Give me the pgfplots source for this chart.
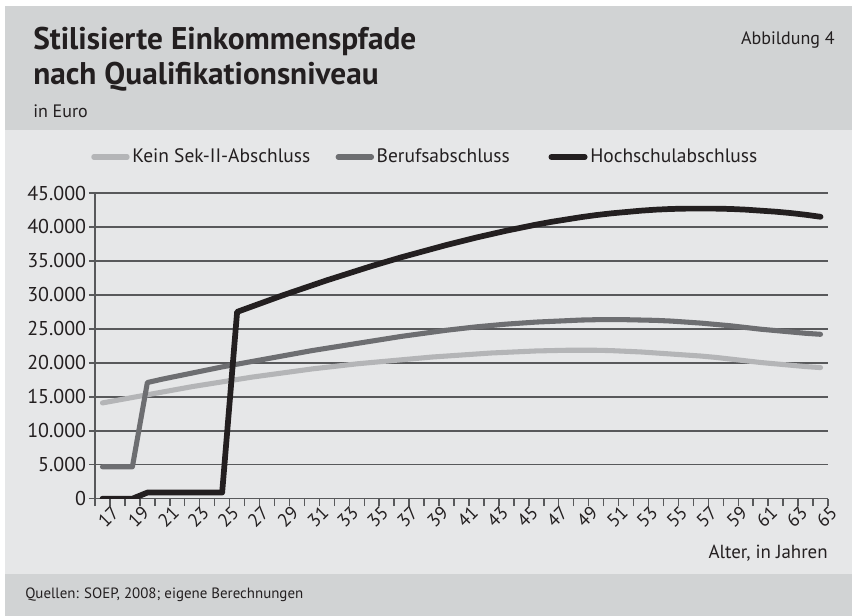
\documentclass[border=0pt]{standalone}
\usepackage{fontspec}
\setmainfont{PT Sans}
\usepackage{pgfplots}
\usepackage{pgfplotstable}
\pgfplotsset{compat=1.18}
\definecolor{hdr}{HTML}{D1D3D4}
\definecolor{pnl}{HTML}{E6E7E8}
\definecolor{gridc}{HTML}{58595B}
\definecolor{cKein}{HTML}{B4B5B7}
\definecolor{cBeruf}{HTML}{6D6E71}
\definecolor{cHoch}{HTML}{231F20}
\def\U{0.75pt}

\pgfplotstableread{
age kein beruf hoch
17 14100 4700 0
18 14500 4700 0
19 14900 4700 0
20 15300 17100 900
21 15700 17600 900
22 16100 18050 900
23 16500 18500 900
24 16850 18950 900
25 17200 19400 900
26 17550 19800 27500
27 17900 20200 28300
28 18200 20600 29100
29 18500 21000 29900
30 18800 21400 30650
31 19100 21800 31400
32 19350 22150 32150
33 19600 22500 32850
34 19850 22850 33550
35 20050 23200 34250
36 20250 23550 34900
37 20450 23900 35550
38 20650 24200 36150
39 20850 24500 36750
40 21000 24800 37350
41 21150 25050 37900
42 21300 25300 38450
43 21450 25500 38950
44 21550 25700 39450
45 21650 25850 39900
46 21750 26000 40350
47 21800 26100 40750
48 21850 26200 41100
49 21850 26300 41450
50 21850 26350 41750
51 21800 26350 42000
52 21700 26350 42200
53 21600 26300 42400
54 21450 26250 42550
55 21300 26150 42650
56 21150 26000 42700
57 21000 25850 42700
58 20800 25650 42700
59 20550 25450 42650
60 20300 25200 42550
61 20050 24950 42400
62 19850 24750 42250
63 19650 24550 42050
64 19450 24350 41800
65 19300 24200 41500
}\datatable

\begin{document}
\begin{tikzpicture}
\useasboundingbox (0,0) rectangle (852*\U,-616*\U);
\fill[white] (0,0) rectangle (852*\U,-616*\U);
\fill[hdr] (5*\U,-6*\U) rectangle (852*\U,-130*\U);
\fill[pnl] (5*\U,-130*\U) rectangle (852*\U,-574*\U);
\fill[hdr] (5*\U,-574*\U) rectangle (852*\U,-616*\U);

\node[anchor=base west, inner sep=0pt, font=\fontsize{23.5}{27}\selectfont\bfseries, text=cHoch] at (33*\U,-50*\U) {Stilisierte Einkommenspfade};
\node[anchor=base west, inner sep=0pt, font=\fontsize{23.5}{27}\selectfont\bfseries, text=cHoch] at (33*\U,-85*\U) {nach Qualifikationsniveau};
\node[anchor=base west, inner sep=0pt, font=\fontsize{13.5}{16}\selectfont, text=cHoch] at (33*\U,-118*\U) {in Euro};
\node[anchor=base east, inner sep=0pt, font=\fontsize{13.5}{16}\selectfont, text=cHoch] at (835*\U,-45*\U) {Abbildung 4};
\node[anchor=base west, inner sep=0pt, font=\fontsize{11.2}{13}\selectfont, text=cHoch] at (25*\U,-598*\U) {Quellen: SOEP, 2008; eigene Berechnungen};

\begin{axis}[
  at={(95*\U,-498.7*\U)}, anchor=south west,
  scale only axis, width=733*\U, height=305.7*\U,
  xmin=16.5, xmax=65.5, ymin=0, ymax=45000,
  axis x line*=bottom, axis y line*=left,
  axis line style={gridc, line width=1.1pt},
  tick align=outside,
  xtick={17,19,...,65},
  minor xtick={16.5,17.5,...,65.5},
  major x tick style={draw=none},
  minor x tick style={gridc, line width=1.1pt},
  major y tick style={gridc, line width=1.1pt},
  minor tick length=5.5pt, major tick length=4.5pt,
  ytick={0,5000,...,45000},
  ymajorgrids, major grid style={gridc, line width=1.1pt},
  scaled ticks=false,
  /pgf/number format/.cd, 1000 sep={.}, assume math mode=true,
  /pgfplots/.cd,
  tick label style={font=\fontsize{15}{18}\selectfont, text=cHoch},
  xticklabel style={rotate=45, anchor=north east, inner sep=0.5pt, xshift=5pt, yshift=-4pt, font=\fontsize{14}{17}\selectfont},
  yticklabel style={inner sep=2pt},
  xlabel={Alter, in Jahren},
  xlabel style={at={(axis description cs:1,0)}, anchor=base east, yshift=-45pt, inner sep=0pt, font=\fontsize{14.2}{17}\selectfont, text=cHoch},
  legend columns=3,
  legend style={at={(axis description cs:0,1)}, anchor=west, xshift=-3pt, yshift=27pt,
    draw=none, fill=none, inner sep=0pt, font=\fontsize{14.6}{17}\selectfont, text=cHoch,
    /tikz/column 2/.style={column sep=17pt},
    /tikz/column 4/.style={column sep=27pt}},
  legend image code/.code={\draw[#1, line cap=round] (0pt,0pt) -- (25pt,0pt);},
  every axis plot/.append style={line join=round, line cap=round},
]
\addplot[cKein, line width=3.8pt] table[x=age, y=kein] {\datatable};
\addlegendentry{Kein Sek-II-Abschluss}
\addplot[cBeruf, line width=3.8pt] table[x=age, y=beruf] {\datatable};
\addlegendentry{Berufsabschluss}
\addplot[cHoch, line width=4.3pt] table[x=age, y=hoch] {\datatable};
\addlegendentry{Hochschulabschluss}
\end{axis}
\end{tikzpicture}
\end{document}
